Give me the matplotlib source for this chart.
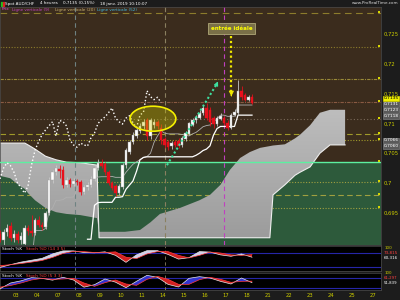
import numpy as np
import matplotlib.pyplot as plt
from matplotlib.colors import LinearSegmentedColormap
from matplotlib.patches import Ellipse, PathPatch, Rectangle
from matplotlib.path import Path

# 4h candles, index 0 = first bar on screen
opens = [0.6914, 0.6904, 0.6918, 0.6928, 0.6908, 0.6914, 0.6904, 0.6898, 0.6924, 0.6919,
         0.6916, 0.6938, 0.6930, 0.6926, 0.6950, 0.7005, 0.7018, 0.7023, 0.7022, 0.6997,
         0.7005, 0.6998, 0.7003, 0.7002, 0.6985, 0.6993, 0.6997, 0.7007, 0.7025, 0.7034,
         0.7032, 0.7018, 0.7000, 0.6995, 0.6983, 0.6993, 0.7030, 0.7052, 0.7069, 0.7079,
         0.7087, 0.7096, 0.7105, 0.7079, 0.7098, 0.7103, 0.7092, 0.7074, 0.7069, 0.7062,
         0.7069, 0.7071, 0.7064, 0.7074, 0.7083, 0.7098, 0.7105, 0.7110, 0.7118, 0.7126,
         0.7122, 0.7109, 0.7099, 0.7108, 0.7109, 0.7101, 0.7093, 0.7114, 0.7118, 0.7155,
         0.7148, 0.7140, 0.7145]
highs = [0.6921, 0.6923, 0.6931, 0.6934, 0.6921, 0.6919, 0.6918, 0.6929, 0.6929, 0.6946,
         0.6941, 0.6944, 0.6935, 0.6953, 0.7010, 0.7022, 0.7031, 0.7030, 0.7028, 0.7010,
         0.7009, 0.7008, 0.7007, 0.7005, 0.6997, 0.7001, 0.7011, 0.7029, 0.7040, 0.7041,
         0.7036, 0.7021, 0.7004, 0.6999, 0.6998, 0.7034, 0.7058, 0.7072, 0.7085, 0.7093,
         0.7100, 0.7108, 0.7110, 0.7110, 0.7108, 0.7106, 0.7099, 0.7078, 0.7073, 0.7071,
         0.7073, 0.7076, 0.7079, 0.7088, 0.7103, 0.7110, 0.7115, 0.7122, 0.7131, 0.7135,
         0.7128, 0.7112, 0.7113, 0.7117, 0.7113, 0.7105, 0.7117, 0.7124, 0.7173, 0.7163,
         0.7152, 0.7147, 0.7150]
lows = [0.6901, 0.6780, 0.6911, 0.6903, 0.6901, 0.6899, 0.6898, 0.6894, 0.6913, 0.6911,
        0.6913, 0.6926, 0.6921, 0.6922, 0.6946, 0.7000, 0.7014, 0.7008, 0.6992, 0.6993,
        0.6994, 0.6995, 0.6996, 0.6980, 0.6981, 0.6989, 0.6994, 0.7004, 0.7022, 0.7025,
        0.7014, 0.6996, 0.6988, 0.6978, 0.6979, 0.6990, 0.7026, 0.7048, 0.7065, 0.7075,
        0.7084, 0.7090, 0.7072, 0.7074, 0.7093, 0.7090, 0.7066, 0.7058, 0.7055, 0.7057,
        0.7060, 0.7058, 0.7060, 0.7071, 0.7080, 0.7095, 0.7101, 0.7107, 0.7114, 0.7105,
        0.7095, 0.7093, 0.7096, 0.7105, 0.7097, 0.7089, 0.7090, 0.7112, 0.7115, 0.7140,
        0.7137, 0.7138, 0.7132]
closes = [0.6904, 0.6918, 0.6924, 0.6908, 0.6914, 0.6904, 0.6911, 0.6924, 0.6919, 0.6916,
          0.6938, 0.6930, 0.6926, 0.6950, 0.7005, 0.7018, 0.7025, 0.7020, 0.6997, 0.7005,
          0.6998, 0.7003, 0.7002, 0.6985, 0.6993, 0.6997, 0.7007, 0.7025, 0.7034, 0.7029,
          0.7018, 0.7000, 0.6992, 0.6983, 0.6995, 0.7030, 0.7055, 0.7069, 0.7081, 0.7089,
          0.7096, 0.7103, 0.7079, 0.7105, 0.7103, 0.7096, 0.7072, 0.7064, 0.7060, 0.7067,
          0.7064, 0.7062, 0.7076, 0.7084, 0.7100, 0.7106, 0.7111, 0.7118, 0.7126, 0.7109,
          0.7103, 0.7099, 0.7109, 0.7113, 0.7101, 0.7093, 0.7114, 0.7119, 0.7155, 0.7145,
          0.7140, 0.7144, 0.7135]

days = ['03', '04', '07', '08', '09', '10', '11', '14', '15', '16', '17', '18',
        '21', '22', '23', '24', '25', '27']

# Ichimoku cloud (already shifted forward)
cloud_x = [0, 2.9, 5.7, 7.1, 8, 10, 13, 16, 19, 23, 27.7, 28.3, 35.7, 40, 43, 45.7,
           51.4, 57, 60, 63, 65.7, 68.6, 71.4, 74.3, 77.1, 78, 81.4, 84.3, 85.7, 88.6,
           91.4, 94.3, 98.6]
span_a = [0.7012, 0.7008, 0.6995, 0.6990, 0.6983, 0.6971, 0.6958, 0.6951, 0.6948, 0.6946,
          0.6941, 0.6918, 0.6918, 0.6921, 0.6934, 0.6948, 0.6958, 0.6971, 0.6980, 0.6997,
          0.7022, 0.7042, 0.7052, 0.7059, 0.7062, 0.7063, 0.7065, 0.7075, 0.7081, 0.7097,
          0.7118, 0.7123, 0.7123]
span_b = [0.7067, 0.7067, 0.7067, 0.7067, 0.7064, 0.7057, 0.7045, 0.7039, 0.7035, 0.7034,
          0.7030, 0.6908, 0.6908, 0.6908, 0.6908, 0.6908, 0.6908, 0.6908, 0.6908, 0.6908,
          0.6908, 0.6908, 0.6908, 0.6908, 0.6908, 0.6980, 0.6997, 0.7013, 0.7018, 0.7027,
          0.7050, 0.7064, 0.7064]

levels = [0.7286, 0.7229, 0.7175, 0.7136, 0.7108, 0.7082, 0.7072, 0.7035, 0.7002, 0.6980, 0.6958]
vert_lines = [21.4, 47.1, 64.0]

# stochastics, every 3 bars
stoch_x = np.arange(0, 73, 3)
k_slow = np.array([18, 30, 41, 49, 57, 76, 89, 89, 82, 81, 85, 70, 40, 72, 90, 90, 74, 54, 60, 86, 84, 72, 66, 76, 62])
d_slow = np.array([26, 30, 35, 41, 48, 61, 78, 87, 86, 82, 82, 85, 62, 56, 76, 86, 86, 70, 59, 70, 84, 80, 72, 70, 73])
k_fast = np.array([15, 50, 63, 82, 78, 67, 84, 68, 25, 40, 74, 55, 22, 60, 96, 84, 42, 26, 78, 88, 80, 60, 44, 80, 52])
d_fast = np.array([25, 35, 50, 68, 78, 72, 74, 78, 50, 30, 52, 68, 44, 36, 72, 90, 72, 42, 42, 70, 84, 72, 54, 60, 61])

BROWN = '#3b2c1d'
GREEN = '#2d5a3b'
W, H = 400, 300


def box(x0, y0, x1, y1):
    return [x0 / W, 1 - y1 / H, (x1 - x0) / W, (y1 - y0) / H]


fig = plt.figure(figsize=(4, 3), dpi=100, facecolor='#1c1c1c')
ax = fig.add_axes(box(0, 7, 381, 245))
s1 = fig.add_axes(box(0, 246, 381, 271))
s2 = fig.add_axes(box(0, 273, 381, 290))
hd = fig.add_axes(box(0, 0, 400, 7))

XL = (0, 381 / 3.5)
YL = (0.68958, 0.72957)

# --- main panel ---
ax.set_facecolor(GREEN)
ax.axhspan(0.7035, YL[1], color=BROWN, zorder=0, lw=0)

styles = [((0, (6, 4)), '#8c7c2c'), ((0, (1, 1.5)), '#8c7c2c'), ((0, (3, 1, 1, 1)), '#9a8a38'),
          ((0, (3, 1, 1, 1)), '#8a5a42'), ((0, (1, 2)), '#7a6a5a'), ((0, (5, 3)), '#a09a2a'),
          ((0, (1, 1.5)), '#a09a2a'), ('-', '#5cf0a0'), ((0, (1, 1.5)), '#a0a040'),
          ((0, (5, 3)), '#a0a040'), ((0, (1, 1.5)), '#a0a040')]
for lv, (ls, col) in zip(levels, styles):
    solid = ls == '-'
    ax.axhline(lv, color=col, ls=ls, lw=1.0 if solid else 0.8, zorder=3 if solid else 1)
    ax.plot([108.3], [lv + 0.0002], marker='s', ms=1.6, color='#d8d800', mew=0, zorder=3, clip_on=False)

# cloud with vertical gradient
fb = ax.fill_between(cloud_x, span_a, span_b, facecolor='none', edgecolor='none')
cmap = LinearSegmentedColormap.from_list('cloud', ['#9a9a9a', '#d8d8d8'])
grad = ax.imshow(np.linspace(0, 1, 256).reshape(-1, 1), cmap=cmap, origin='lower', aspect='auto',
                 extent=[XL[0], XL[1], YL[0], YL[1]], zorder=2)
clip = PathPatch(Path.make_compound_path(*fb.get_paths()), transform=ax.transData,
                 facecolor='none', edgecolor='none')
ax.add_patch(clip)
grad.set_clip_path(clip)
ax.plot(cloud_x, span_b, color='#eeeeee', lw=0.8, zorder=2.5)

for xv, col in zip(vert_lines, ['#6f8282', '#8a8060', '#c040c0']):
    ax.axvline(xv, color=col, ls=(0, (4, 3)), lw=0.8, zorder=3)

o, h, l, c = map(np.array, (opens, highs, lows, closes))
idx = np.arange(len(o))


def midline(n):
    out = np.full(len(h), np.nan)
    for i in range(n - 1, len(h)):
        out[i] = (h[i - n + 1:i + 1].max() + l[i - n + 1:i + 1].min()) / 2
    return out


ax.plot(idx, midline(9), color='#b0b0b0', lw=0.6, zorder=4)
ax.plot(idx, midline(26), color='#ffffff', lw=0.9, zorder=4)
ax.plot(idx[:-26], c[26:], color='white', lw=1.0, ls=(0, (1, 1.6)), zorder=4)

up = c >= o
ax.vlines(idx, l, h, colors=np.where(up, '#c8c8c8', '#e0101c'), lw=0.6, zorder=5)
ax.bar(idx, np.maximum(np.abs(c - o), 0.00008), bottom=np.minimum(o, c), width=0.72,
       color=np.where(up, '#ffffff', '#e8101c'), edgecolor=np.where(up, '#a0a0a0', '#e8101c'),
       lw=0.3, zorder=6)

ax.add_patch(Ellipse((43.7, 0.7108), 13.1, 0.0042, facecolor=(0.8, 0.78, 0.0, 0.35),
                     edgecolor='#f5f000', lw=1.2, zorder=7))

ax.plot([47.7, 62.0], [0.7030, 0.7167], color='#3ee0a0', lw=1.5, ls=(0, (1, 1.2)), zorder=7)
ax.annotate('', xy=(62.6, 0.7175), xytext=(61.6, 0.7162),
            arrowprops=dict(arrowstyle='-|>', color='#3ee0a0', lw=0.8, mutation_scale=6), zorder=7)
ax.plot([66.1, 66.1], [0.7247, 0.7152], color='#f0e800', lw=1.6, ls=(0, (1, 1.2)), zorder=7)
ax.annotate('', xy=(66.1, 0.7141), xytext=(66.1, 0.7152),
            arrowprops=dict(arrowstyle='-|>', color='#f0e800', lw=0.8, mutation_scale=7), zorder=7)
ax.text(66.1, 0.7260, 'entrée idéale', ha='center', va='center', fontsize=4, fontweight='bold',
        color='#ffff00', zorder=8,
        bbox=dict(boxstyle='square,pad=0.5', fc='#7a7048', ec='#b0a878', lw=0.6))

ax.set_xlim(XL)
ax.set_ylim(YL)
ax.set_xticks([])
ax.yaxis.tick_right()
yt = [0.695, 0.7, 0.705, 0.71, 0.715, 0.72, 0.725]
ax.set_yticks(yt)
ax.set_yticklabels([f'{v:g}'.replace('.', ',') for v in yt])
ax.tick_params(axis='y', labelcolor='#cccc00', labelsize=3.8, length=0, pad=2)

tr = ax.get_yaxis_transform()
ax.text(1.006, 0.7142, '0,7135', transform=tr, fontsize=3.2, color='black', va='center',
        bbox=dict(boxstyle='square,pad=0.12', fc='#f0f000', ec='#f0f000', lw=0.4))
for yv, txt in [(0.7132, '0,7131'), (0.7122, '0,7123'), (0.7112, '0,7118'),
                (0.7072, '0,7066'), (0.7062, '0,7060')]:
    ax.text(1.006, yv, txt, transform=tr, fontsize=3.2, color='white', va='center',
            bbox=dict(boxstyle='square,pad=0.12', fc='#5a5a5a', ec='#8a8a8a', lw=0.4))

# --- stochastic panels ---
for a, kk, dd, upc, lab, yl in [(s1, k_slow, d_slow, '#d0d0ea', '(14 3 5)', (3, 110)),
                                (s2, k_fast, d_fast, '#3434d0', '(5 3 3)', (8, 110))]:
    a.set_facecolor('black')
    for lv in (80, 20):
        a.axhline(lv, color='#2626a8', lw=0.8, zorder=1)
    a.fill_between(stoch_x, kk, dd, where=kk >= dd, interpolate=True, color=upc, lw=0, zorder=2)
    a.fill_between(stoch_x, kk, dd, where=kk < dd, interpolate=True, color='#d42020', lw=0, zorder=2)
    a.plot(stoch_x, kk, color='#e8e8e8', lw=0.5, zorder=3)
    a.plot(stoch_x, dd, color='#ff3a3a', lw=0.5, zorder=3)
    a.axvline(vert_lines[0], color='#6f8282', ls=(0, (4, 3)), lw=0.6, zorder=1)
    a.axvline(vert_lines[1], color='#8a8060', ls=(0, (4, 3)), lw=0.6, zorder=1)
    a.set_xlim(XL)
    a.set_ylim(yl)
    a.set_yticks([])
    a.text(0.005, 0.96, 'Stoch %K', transform=a.transAxes, fontsize=3.1, color='white', va='top')
    a.text(0.068, 0.96, 'Stoch %D ' + lab, transform=a.transAxes, fontsize=3.1, color='#ff4040', va='top')

s1.set_xticks([])
t1 = s1.get_yaxis_transform()
s1.text(1.01, 102, '100', transform=t1, fontsize=3.0, color='#cccc00', va='center')
s1.text(1.006, 80, '73,815', transform=t1, fontsize=3.0, color='#ff4040', va='center')
s1.text(1.006, 58, '60,316', transform=t1, fontsize=3.0, color='white', va='center')
t2 = s2.get_yaxis_transform()
s2.text(1.01, 108, '100', transform=t2, fontsize=2.8, color='#cccc00', va='center')
s2.text(1.006, 80, '61,297', transform=t2, fontsize=2.8, color='#ff4040', va='center')
s2.text(1.006, 50, '51,839', transform=t2, fontsize=2.8, color='white', va='center')

s2.set_xticks(4.5 + 6 * np.arange(len(days)))
s2.set_xticklabels(days)
s2.tick_params(axis='x', labelcolor='#cccc00', labelsize=3.8, length=0, pad=2)

for a in (ax, s1, s2):
    for sp in a.spines.values():
        sp.set_color('#4a4a4a')
        sp.set_linewidth(0.5)

# --- header ---
hd.set_facecolor('#2c2c2c')
hd.set_xlim(0, W)
hd.set_ylim(0, 7)
hd.axis('off')
hd.add_patch(Rectangle((1, 1), 1.2, 4, color='#20c020'))
hd.add_patch(Rectangle((2.6, 1), 1.2, 4, color='#e02020'))
for xp, txt in [(5, 'Spot AUD/CHF'), (40, '4 heures'), (63, '0,7135 (0,15%)'),
                (100, '18 janv. 2019 10:10:07')]:
    hd.text(xp, 3.5, txt, fontsize=3.0, color='white', va='center')
hd.text(398, 3.5, 'www.ProRealTime.com', fontsize=3.0, color='#dddddd', va='center', ha='right')

ly = 1 - 9.5 / H
for xp, txt, col in [(2, 'Prix', '#e050d0'), (12, 'Ligne verticale (9)', '#c040c0'),
                     (55, 'Ligne verticale (20)', '#c8b070'), (97, 'Ligne verticale (52)', '#40b8e0')]:
    fig.text(xp / W, ly, txt, fontsize=3.0, color=col, va='center')

fig.savefig('out.png', dpi=100, facecolor=fig.get_facecolor())
